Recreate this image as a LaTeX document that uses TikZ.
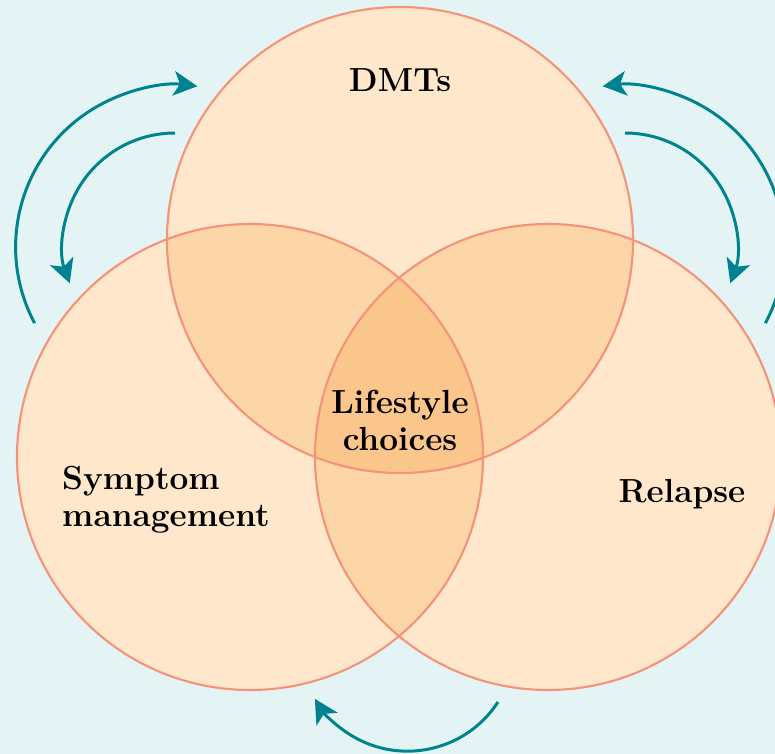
\documentclass[tikz,border=0pt]{standalone}
\usetikzlibrary{arrows.meta}
\definecolor{bgblue}{HTML}{E4F4F5}
\definecolor{peachone}{HTML}{FFE7CB}
\definecolor{peachtwo}{HTML}{FDD6A8}
\definecolor{peachthree}{HTML}{FBC68B}
\definecolor{rim}{HTML}{F4937A}
\definecolor{teal}{HTML}{00828F}
\begin{document}
\begin{tikzpicture}[x=0.02cm,y=-0.02cm,
    loop/.style={draw=teal,line width=1.7pt,-{Stealth[length=13.5pt,width=14pt,inset=3.5pt]}},
    lbl/.style={font=\bfseries\fontsize{19}{21}\selectfont}]
                    \useasboundingbox (0,0) rectangle (775,754);
                    \fill[bgblue] (0,0) rectangle (775,754);
                    \coordinate (T) at (400,240);
                    \coordinate (L) at (250,457);
                    \coordinate (R) at (548,457);
                    \fill[peachone] (T) circle[radius=233];
                    \fill[peachone] (L) circle[radius=233];
                    \fill[peachone] (R) circle[radius=233];
                    \begin{scope}
                        \clip (T) circle[radius=233];
                        \fill[peachtwo] (L) circle[radius=233];
                        \fill[peachtwo] (R) circle[radius=233];
                    \end{scope}
                    \begin{scope}
                        \clip (L) circle[radius=233];
                        \fill[peachtwo] (R) circle[radius=233];
                        \clip (R) circle[radius=233];
                        \fill[peachthree] (T) circle[radius=233];
                    \end{scope}
                    \draw[rim,line width=1.2pt] (T) circle[radius=233];
                    \draw[rim,line width=1.2pt] (L) circle[radius=233];
                    \draw[rim,line width=1.2pt] (R) circle[radius=233];
                    \node[lbl] (dmts) at (400,80) {DMTs};
                    \node[lbl,align=center] (life) at (400,420) {Lifestyle\\choices};
                    \node[lbl,align=left,anchor=west] (symp) at (56,500) {Symptom\\management};
                    \node[lbl] (relapse) at (682,494) {Relapse};
                    \coordinate (a1) at (34.6,323.1);
                    \coordinate (a2) at (175,133);
                    \coordinate (a3) at (765.4,323.1);
                    \coordinate (a4) at (625,133);
                    \coordinate (a5) at (498,702);
                    \draw[loop] (a1) arc[start angle=152,end angle=277,radius=162];
                    \draw[loop] (a2) arc[start angle=270,end angle=160,radius=112];
                    \draw[loop] (a3) arc[start angle=28,end angle=-97,radius=162];
                    \draw[loop] (a4) arc[start angle=270,end angle=380,radius=112];
                    \draw[loop] (a5) arc[start angle=33,end angle=149,radius=108];
                \end{tikzpicture}
\end{document}
